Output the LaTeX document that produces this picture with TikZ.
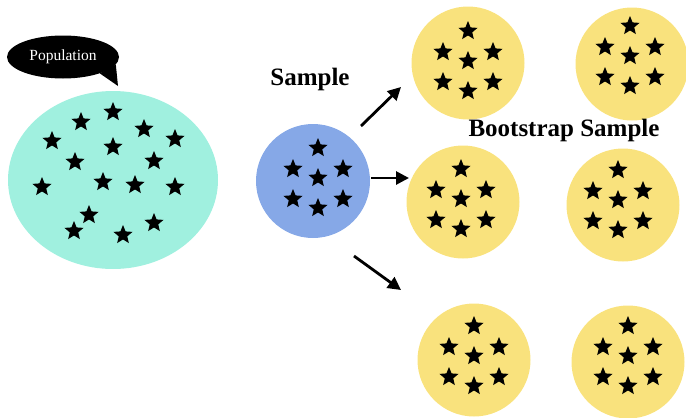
\documentclass[tikz,border=0pt]{standalone}
\usepackage{fontspec}
\setmainfont{Liberation Serif}
\usetikzlibrary{shapes.geometric,arrows.meta}

\definecolor{popcol}{RGB}{160,240,223}
\definecolor{samplecol}{RGB}{134,168,231}
\definecolor{bootcol}{RGB}{249,226,125}

\tikzset{
  pstar/.style={star, star points=5, star point ratio=2.25, fill=black, inner sep=0pt, minimum size=20},
  bootdisc/.style={circle, fill=bootcol, inner sep=0pt, minimum size=113},
  flow/.style={line width=2.8pt, -{Triangle[length=13pt,width=13pt]}},
  heading/.style={font=\bfseries\fontsize{25}{28}\selectfont},
  starset/.pic={
    \foreach \dx/\dy [count=\i] in {0/-30,-25/-9,0/0,25/-9,-25/21,0/30,25/21}
      \node[pstar] (-s\i) at (\dx,\dy) {};
  }
}

\begin{document}
\begin{tikzpicture}[x=1pt,y=-1pt]
      \useasboundingbox (0,0) rectangle (686,418);

      % population
      \node[ellipse, fill=popcol, inner sep=0pt, minimum width=210, minimum height=178] (pop) at (113,180) {};
      \foreach \x/\y [count=\i] in {81/122,113/112,144/129,175/139,52/141,113/147,75/162,154/161,
                                    42/187,103/182,135/185,175/187,89/215,74/231,154/223,123/235}
        \node[pstar] (p\i) at (\x,\y) {};

      \node[ellipse, fill=black, inner sep=0pt, minimum width=112, minimum height=43,
            text=white, font=\fontsize{15.5}{18}\selectfont] (popbubble) at (63,57) {Population};
      \coordinate (poptip) at (118,86);
      \fill (popbubble.-24) -- (poptip) -- (popbubble.-8) -- cycle;

      % sample
      \node[circle, fill=samplecol, inner sep=0pt, minimum size=114] (sample) at (313,181) {};
      \pic (samp) at (318,178) {starset};
      \node[heading] (samplelabel) at (310,79) {Sample};

      % bootstrap samples
      \node[bootdisc] (b1) at (468,63) {};
      \node[bootdisc] (b2) at (632,64) {};
      \node[bootdisc] (b3) at (463,202) {};
      \node[bootdisc] (b4) at (623,205) {};
      \node[bootdisc] (b5) at (474,360) {};
      \node[bootdisc] (b6) at (628,362) {};
      \pic (bs1) at (468,61) {starset};
      \pic (bs2) at (630,56) {starset};
      \pic (bs3) at (461,199) {starset};
      \pic (bs4) at (618,200) {starset};
      \pic (bs5) at (474,356) {starset};
      \pic (bs6) at (628,356) {starset};
      \node[heading] (bootlabel) at (564,130) {Bootstrap Sample};

      % arrows
      \coordinate (up0) at (361,126);
      \coordinate (up1) at (401,87);
      \coordinate (mid0) at (371,178);
      \coordinate (mid1) at (409,178);
      \coordinate (dn0) at (354,256);
      \coordinate (dn1) at (401,290);
      \draw[flow] (up0) -- (up1);
      \draw[flow] (mid0) -- (mid1);
      \draw[flow] (dn0) -- (dn1);
    \end{tikzpicture}
\end{document}
